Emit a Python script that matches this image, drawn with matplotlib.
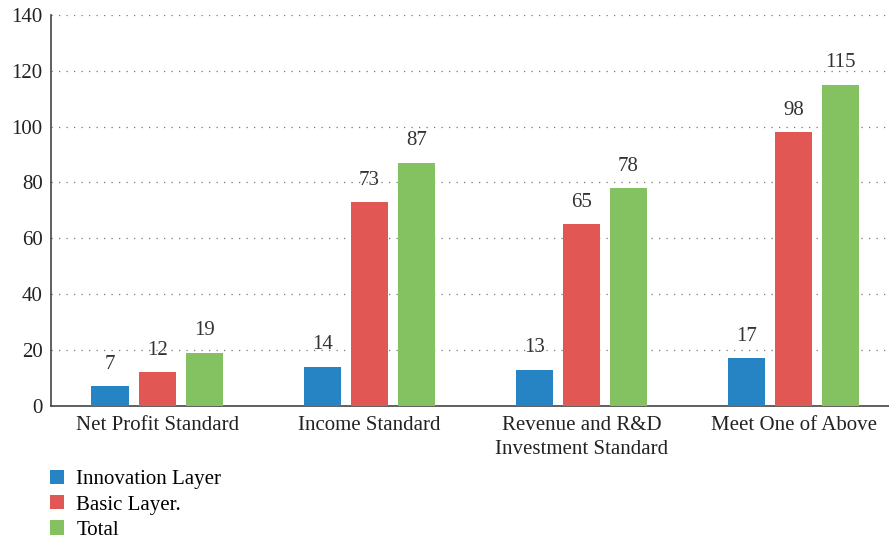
import numpy as np
import matplotlib.pyplot as plt

categories = ["Net Profit Standard", "Income Standard",
              "Revenue and R&D\nInvestment Standard", "Meet One of Above"]
innovation = [7, 14, 13, 17]
basic = [12, 73, 65, 98]
total = [19, 87, 78, 115]
series_names = ["Innovation Layer", "Basic Layer.", "Total"]
colors = ["#2683c4", "#e05754", "#84c160"]

plt.rcParams['font.family'] = ['Liberation Serif', 'DejaVu Serif']
plt.rcParams['font.size'] = 15

fig = plt.figure(figsize=(8.89, 5.42), dpi=100)
ax = fig.add_axes([0.0574, 0.251, 0.9426, 0.7215])

x = np.arange(len(categories))
w = 0.175
step = 0.222
for i, (vals, name, c) in enumerate(zip([innovation, basic, total], series_names, colors)):
    pos = x + (i - 1) * step
    bars = ax.bar(pos, vals, width=w, color=c, label=name, zorder=3)
    for b, v in zip(bars, vals):
        ax.annotate(str(v), (b.get_x() + b.get_width() / 2, v), xytext=(0, 9),
                    textcoords="offset points", ha="center", va="bottom",
                    fontsize=15, color="#333333")

ax.set_ylim(0, 140)
ax.set_yticks(range(0, 141, 20))
ax.set_xlim(-0.5, 3.45)
ax.set_xticks(x)
ax.set_xticklabels(categories, color="#222222", linespacing=1.4)
ax.tick_params(axis="x", length=0, pad=7, colors="#222222")
ax.tick_params(axis="y", length=0, pad=6, colors="#222222")
ax.grid(axis="y", linestyle=(0, (1, 5)), color="#777777", linewidth=0.9)
for s in ["top", "right"]:
    ax.spines[s].set_visible(False)
ax.spines["left"].set_color("#444444")
ax.spines["bottom"].set_color("#444444")
ax.spines["left"].set_linewidth(1.2)
ax.spines["bottom"].set_linewidth(1.2)

fig.legend(loc="upper left", bbox_to_anchor=(0.0562, 0.133), frameon=False,
           borderpad=0, borderaxespad=0,
           handlelength=0.67, handleheight=0.67, handletextpad=0.6,
           labelspacing=0.28, fontsize=15)

fig.savefig("out.png", dpi=100)
